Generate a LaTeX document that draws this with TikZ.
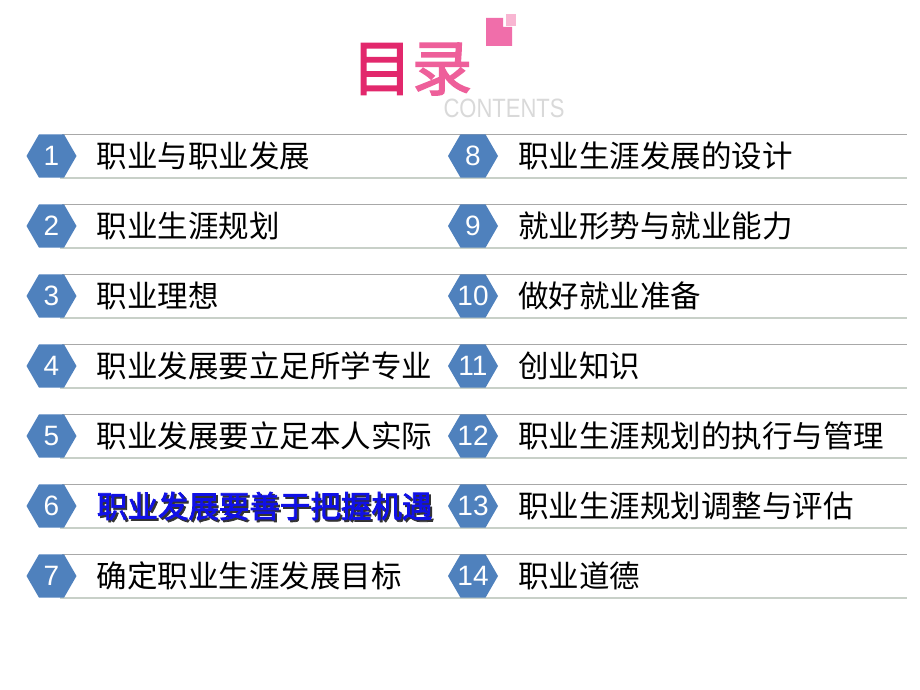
\documentclass[tikz,border=0pt]{standalone}
\usepackage{fontspec}
\usepackage{tikz}
\usetikzlibrary{positioning,shapes.geometric}
\newfontfamily\cjk{Noto Sans CJK SC}[AutoFakeBold=2.5]
\newfontfamily\numfont{Liberation Sans}
\definecolor{hexblue}{HTML}{4F81BD}
\definecolor{rowblue}{HTML}{1010E6}
\definecolor{pinkdark}{HTML}{E2286C}
\definecolor{pinklight}{HTML}{EE5F9A}
\definecolor{pinkbox}{HTML}{F06EAA}
\definecolor{pinksmall}{HTML}{F8B6D2}
\definecolor{topgray}{HTML}{A8A8A8}
\definecolor{bottomgray}{HTML}{C8D0C8}

\begin{document}
\begin{tikzpicture}[x=1pt,y=-1pt,
    hexnum/.style={regular polygon, regular polygon sides=6, minimum size=50pt,
      inner sep=0pt, fill=hexblue, text=white,
      font=\numfont\fontsize{28}{30}\selectfont},
    item/.style={inner sep=0pt, right=20pt of #1, font=\cjk\fontsize{30.5}{34}\selectfont},
    topline/.style={draw=topgray, line width=1pt},
    bottomline/.style={draw=bottomgray, line width=2.5pt}]
  \useasboundingbox[fill=white] (0,0) rectangle (920,690);

  % title
  \fill[pinkbox] (486,18) -- (503,18) -- (503,27) -- (512,27) -- (512,46) -- (486,46) -- cycle;
  \fill[pinksmall] (506,14) rectangle (516,26);
  \node[font=\cjk\bfseries\fontsize{60}{62}\selectfont] (title) at (412,69)
    {\textcolor{pinkdark}{目}\textcolor{pinklight}{录}};
  \node[font=\numfont\fontsize{26.5}{28}\selectfont, text=black!15, xscale=0.83] (contents) at (504,108) {CONTENTS};

  % rows
  \draw[topline] (62,134) -- (907,134) (62,204) -- (907,204) (62,274) -- (907,274)
    (62,344) -- (907,344) (62,414) -- (907,414) (62,484) -- (907,484) (62,554) -- (907,554);
  \draw[bottomline] (60,178) -- (907,178) (60,248) -- (907,248) (60,318) -- (907,318)
    (60,388) -- (907,388) (60,458) -- (907,458) (60,528) -- (907,528) (60,598) -- (907,598);

  \node[hexnum] (n1) at (51.5,156) {\makebox[0pt]{1}};
  \node[hexnum] (n2) at (51.5,226) {\makebox[0pt]{2}};
  \node[hexnum] (n3) at (51.5,296) {\makebox[0pt]{3}};
  \node[hexnum] (n4) at (51.5,366) {\makebox[0pt]{4}};
  \node[hexnum] (n5) at (51.5,436) {\makebox[0pt]{5}};
  \node[hexnum] (n6) at (51.5,506) {\makebox[0pt]{6}};
  \node[hexnum] (n7) at (51.5,576) {\makebox[0pt]{7}};
  \node[hexnum] (n8) at (473,156) {\makebox[0pt]{8}};
  \node[hexnum] (n9) at (473,226) {\makebox[0pt]{9}};
  \node[hexnum] (n10) at (473,296) {\makebox[0pt]{10}};
  \node[hexnum] (n11) at (473,366) {\makebox[0pt]{11}};
  \node[hexnum] (n12) at (473,436) {\makebox[0pt]{12}};
  \node[hexnum] (n13) at (473,506) {\makebox[0pt]{13}};
  \node[hexnum] (n14) at (473,576) {\makebox[0pt]{14}};

  \node[item=n1] (t1) {职业与职业发展};
  \node[item=n2] (t2) {职业生涯规划};
  \node[item=n3] (t3) {职业理想};
  \node[item=n4] (t4) {职业发展要立足所学专业};
  \node[item=n5] (t5) {职业发展要立足本人实际};
  \node[item=n6, xshift=2pt, yshift=-2pt, text=black!80, font=\cjk\bfseries\fontsize{30.5}{34}\selectfont] (t6s) {职业发展要善于把握机遇};
  \node[item=n6, text=rowblue, font=\cjk\bfseries\fontsize{30.5}{34}\selectfont] (t6) {职业发展要善于把握机遇};
  \node[item=n7] (t7) {确定职业生涯发展目标};
  \node[item=n8] (t8) {职业生涯发展的设计};
  \node[item=n9] (t9) {就业形势与就业能力};
  \node[item=n10] (t10) {做好就业准备};
  \node[item=n11] (t11) {创业知识};
  \node[item=n12] (t12) {职业生涯规划的执行与管理};
  \node[item=n13] (t13) {职业生涯规划调整与评估};
  \node[item=n14] (t14) {职业道德};
\end{tikzpicture}
\end{document}
